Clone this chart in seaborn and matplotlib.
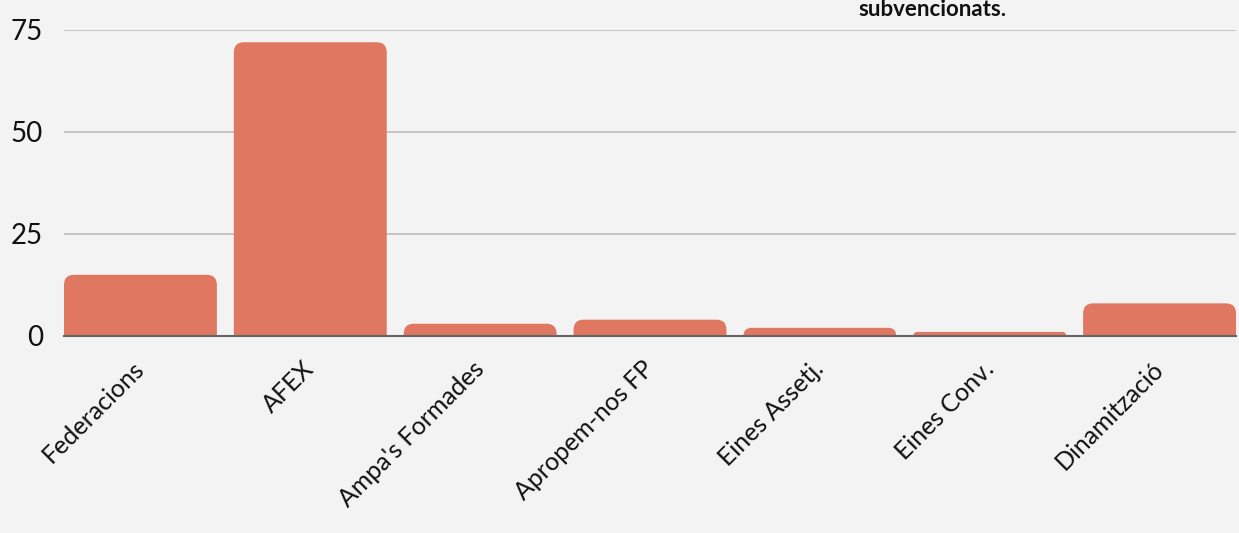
import numpy as np
import pandas as pd
import seaborn as sns
import matplotlib.pyplot as plt
from matplotlib.path import Path
from matplotlib.patches import PathPatch

categories = ["Federacions", "AFEX", "Ampa's Formades", "Apropem-nos FP",
              "Eines Assetj.", "Eines Conv.", "Dinamització"]
values = [15, 72, 3, 4, 2, 1, 8]
y_ticks = [0, 25, 50, 75]
title_tail = "subvencionats."

bar_color = "#E07760"
bg = "#F3F3F3"

sns.set_style("white")
plt.rcParams['font.family'] = ['Lato', 'DejaVu Sans']

df = pd.DataFrame({'category': categories, 'value': values})

fig = plt.figure(figsize=(12.39, 5.33), dpi=100, facecolor=bg)
ax = fig.add_axes([64 / 1239, 1 - 336 / 533, (1236 - 64) / 1239, (336 - 30) / 533])
ax.set_facecolor(bg)

sns.barplot(data=df, x='category', y='value', color=bar_color, width=0.9,
            saturation=1, ax=ax, zorder=3)

ax.set_xlim(-0.45, len(categories) - 0.55)
ax.set_ylim(0, 75)
ax.set_yticks(y_ticks)
ax.set_yticklabels([str(t) for t in y_ticks])
ax.yaxis.grid(True, color='#BDBDBD', linewidth=1.2, zorder=0)
ax.set_axisbelow(True)
for s in ['top', 'right', 'left']:
    ax.spines[s].set_visible(False)
ax.spines['bottom'].set_color('#666666')
ax.spines['bottom'].set_linewidth(1.5)
ax.spines['bottom'].set_zorder(5)
ax.set_xlabel('')
ax.set_ylabel('')
ax.tick_params(axis='y', length=0, pad=15, labelsize=20, labelcolor='#111111')
ax.tick_params(axis='x', length=0, pad=21, labelsize=18, labelcolor='#111111')
for lab in ax.get_xticklabels():
    lab.set_rotation(45)
    lab.set_ha('right')
    lab.set_va('center')
    lab.set_rotation_mode('anchor')

# rounded tops on the bars
fig.canvas.draw()
bbox = ax.get_window_extent()
px_x = bbox.width / (ax.get_xlim()[1] - ax.get_xlim()[0])
px_y = bbox.height / (ax.get_ylim()[1] - ax.get_ylim()[0])
r_px = 10
for p in list(ax.patches):
    x0, y0 = p.get_x(), p.get_y()
    w, h = p.get_width(), p.get_height()
    r = min(r_px, h * px_y)
    rx, ry = r / px_x, r / px_y
    x1, y1 = x0 + w, y0 + h
    verts = [(x0, y0), (x0, y1 - ry), (x0, y1), (x0 + rx, y1),
             (x1 - rx, y1), (x1, y1), (x1, y1 - ry), (x1, y0), (x0, y0)]
    codes = [Path.MOVETO, Path.LINETO, Path.CURVE3, Path.CURVE3,
             Path.LINETO, Path.CURVE3, Path.CURVE3, Path.LINETO, Path.CLOSEPOLY]
    ax.add_patch(PathPatch(Path(verts, codes), facecolor=bar_color,
                           edgecolor='none', zorder=3))
    p.set_visible(False)

fig.text(933 / 1239, 1 - 10 / 533, title_tail, ha='center', va='center',
         fontsize=16, fontweight='bold', color='#111111')

plt.savefig('out.png', dpi=100, facecolor=bg)
